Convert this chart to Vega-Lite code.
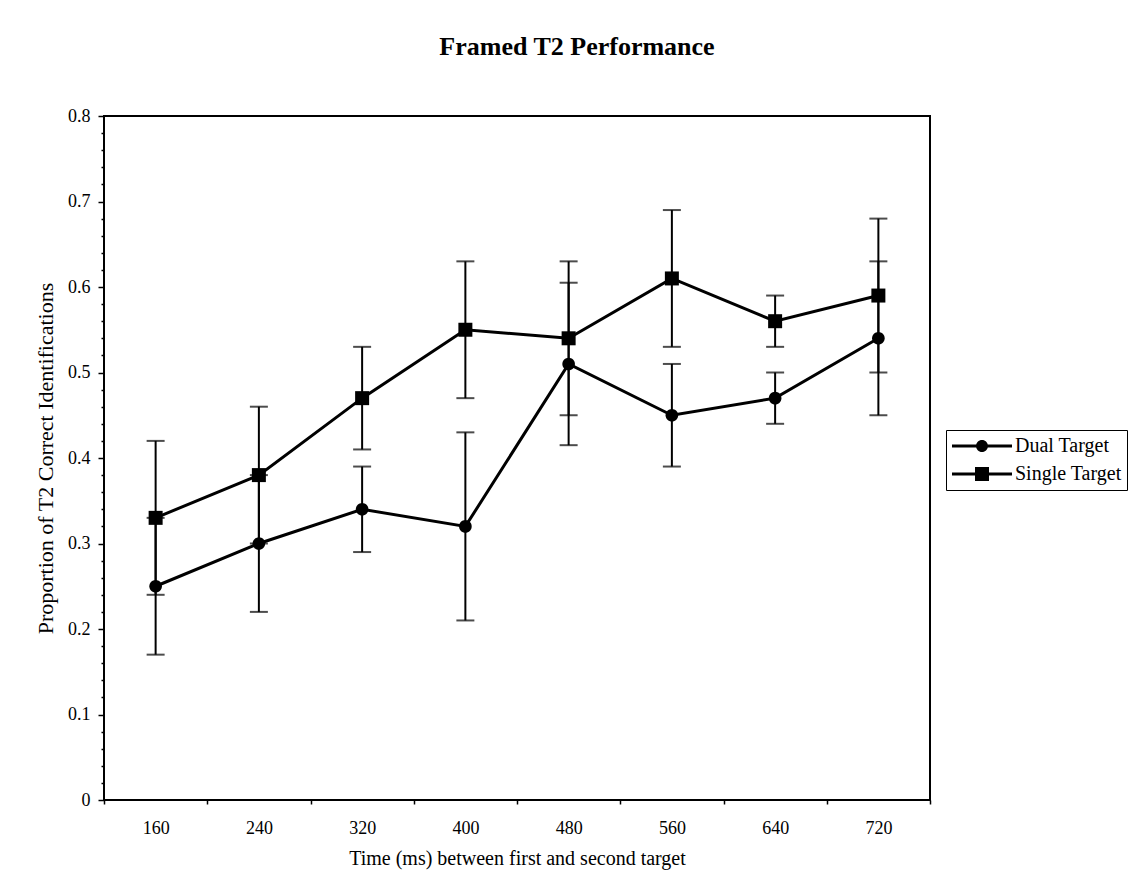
{
  "$schema": "https://vega.github.io/schema/vega-lite/v6.json",
  "width": 826,
  "height": 684,
  "autosize": {"type": "none"},
  "padding": {"left": 104, "top": 116, "right": 209, "bottom": 96},
  "background": "white",
  "config": {
    "view": {"stroke": "black", "strokeWidth": 2},
    "font": "Liberation Serif"
  },
  "title": {
    "text": "Framed T2 Performance",
    "font": "Liberation Serif",
    "fontSize": 26,
    "fontWeight": "bold",
    "color": "black",
    "offset": 47,
    "dx": 60,
    "anchor": "middle"
  },
  "data": {
    "values": [
      {"time": 160, "series": "Dual Target", "value": 0.25, "lo": 0.17, "hi": 0.33},
      {"time": 240, "series": "Dual Target", "value": 0.30, "lo": 0.22, "hi": 0.38},
      {"time": 320, "series": "Dual Target", "value": 0.34, "lo": 0.29, "hi": 0.39},
      {"time": 400, "series": "Dual Target", "value": 0.32, "lo": 0.21, "hi": 0.43},
      {"time": 480, "series": "Dual Target", "value": 0.51, "lo": 0.415, "hi": 0.605},
      {"time": 560, "series": "Dual Target", "value": 0.45, "lo": 0.39, "hi": 0.51},
      {"time": 640, "series": "Dual Target", "value": 0.47, "lo": 0.44, "hi": 0.50},
      {"time": 720, "series": "Dual Target", "value": 0.54, "lo": 0.45, "hi": 0.63},
      {"time": 160, "series": "Single Target", "value": 0.33, "lo": 0.24, "hi": 0.42},
      {"time": 240, "series": "Single Target", "value": 0.38, "lo": 0.30, "hi": 0.46},
      {"time": 320, "series": "Single Target", "value": 0.47, "lo": 0.41, "hi": 0.53},
      {"time": 400, "series": "Single Target", "value": 0.55, "lo": 0.47, "hi": 0.63},
      {"time": 480, "series": "Single Target", "value": 0.54, "lo": 0.45, "hi": 0.63},
      {"time": 560, "series": "Single Target", "value": 0.61, "lo": 0.53, "hi": 0.69},
      {"time": 640, "series": "Single Target", "value": 0.56, "lo": 0.53, "hi": 0.59},
      {"time": 720, "series": "Single Target", "value": 0.59, "lo": 0.50, "hi": 0.68}
    ]
  },
  "encoding": {
    "x": {
      "field": "time",
      "type": "ordinal",
      "scale": {"type": "band", "paddingInner": 0, "paddingOuter": 0},
      "axis": {
        "title": "Time (ms) between first and second target",
        "labelAngle": 0,
        "tickBand": "extent",
        "tickSize": 4,
        "tickWidth": 1.5,
        "tickColor": "black",
        "domain": false,
        "grid": false,
        "labelFont": "Liberation Serif",
        "labelFontSize": 18,
        "labelColor": "black",
        "labelPadding": 15,
        "titleFont": "Liberation Serif",
        "titleFontSize": 20,
        "titleFontWeight": "normal",
        "titleColor": "black",
        "titlePadding": 11
      }
    }
  },
  "resolve": {"axis": {"y": "independent"}, "scale": {"shape": "independent"}},
  "layer": [
    {
      "mark": {"type": "rule", "color": "black", "strokeWidth": 2},
      "encoding": {
        "y": {
          "field": "lo",
          "type": "quantitative",
          "scale": {"domain": [0, 0.8]},
          "axis": {
            "orient": "left",
            "title": "Proportion of T2 Correct Identifications",
            "values": [0, 0.1, 0.2, 0.3, 0.4, 0.5, 0.6, 0.7, 0.8],
            "format": "",
            "tickSize": 6,
            "tickColor": "black",
            "tickWidth": 1.5,
            "domain": false,
            "grid": false,
            "labelFont": "Liberation Serif",
            "labelFontSize": 18,
            "labelColor": "black",
            "labelPadding": 8,
            "titleFont": "Liberation Serif",
            "titleFontSize": 22,
            "titleFontWeight": "normal",
            "titleColor": "black",
            "titlePadding": 10
          }
        },
        "y2": {"field": "hi"}
      }
    },
    {
      "mark": {"type": "tick", "color": "black", "size": 18, "thickness": 2},
      "encoding": {
        "y": {
          "field": "lo",
          "type": "quantitative",
          "scale": {"domain": [0, 0.8]},
          "axis": {
            "orient": "left",
            "title": null,
            "values": [0.02, 0.04, 0.06, 0.08, 0.12, 0.14, 0.16, 0.18, 0.22, 0.24, 0.26, 0.28, 0.32, 0.34, 0.36, 0.38, 0.42, 0.44, 0.46, 0.48, 0.52, 0.54, 0.56, 0.58, 0.62, 0.64, 0.66, 0.68, 0.72, 0.74, 0.76, 0.78],
            "labels": false,
            "tickSize": 3,
            "tickColor": "black",
            "tickWidth": 1.5,
            "domain": false,
            "grid": false
          }
        }
      }
    },
    {
      "mark": {"type": "tick", "color": "black", "size": 18, "thickness": 2},
      "encoding": {"y": {"field": "hi", "type": "quantitative", "axis": null}}
    },
    {
      "mark": {"type": "line", "color": "black", "strokeWidth": 3},
      "encoding": {
        "y": {"field": "value", "type": "quantitative", "axis": null},
        "detail": {"field": "series"}
      }
    },
    {
      "mark": {"type": "point", "filled": true, "color": "black", "opacity": 1, "size": 196},
      "encoding": {
        "y": {"field": "value", "type": "quantitative", "axis": null},
        "shape": {
          "field": "series",
          "type": "nominal",
          "scale": {
            "domain": ["Dual Target", "Single Target"],
            "range": ["M-0.9,0A0.9,0.9,0,1,1,0.9,0A0.9,0.9,0,1,1,-0.9,0Z", "M-1,-1H1V1H-1Z"]
          },
          "legend": null
        }
      }
    },
    {
      "mark": {"type": "point", "filled": true, "fill": "black", "stroke": "black", "strokeWidth": 2, "opacity": 0, "size": 400},
      "encoding": {
        "y": {"field": "value", "type": "quantitative", "axis": null},
        "shape": {
          "field": "series",
          "type": "nominal",
          "scale": {
            "domain": ["Dual Target", "Single Target"],
            "range": ["M-1,-0.15H5V0.15H-1ZM1.4,0A0.6,0.6,0,1,1,2.6,0A0.6,0.6,0,1,1,1.4,0Z", "M-1,-0.15H5V0.15H-1ZM1.3,-0.7H2.7V0.7H1.3Z"]
          },
          "legend": {
            "title": null,
            "orient": "none",
            "legendX": 842,
            "legendY": 314,
            "strokeColor": "black",
            "padding": 5,
            "symbolSize": 400,
            "symbolStrokeWidth": 2,
            "symbolStrokeColor": "black",
            "symbolFillColor": "black",
            "symbolOpacity": 1,
            "labelFont": "Liberation Serif",
            "labelFontSize": 20,
            "labelColor": "black",
            "labelOffset": 42,
            "rowPadding": 7
          }
        }
      }
    }
  ]
}
